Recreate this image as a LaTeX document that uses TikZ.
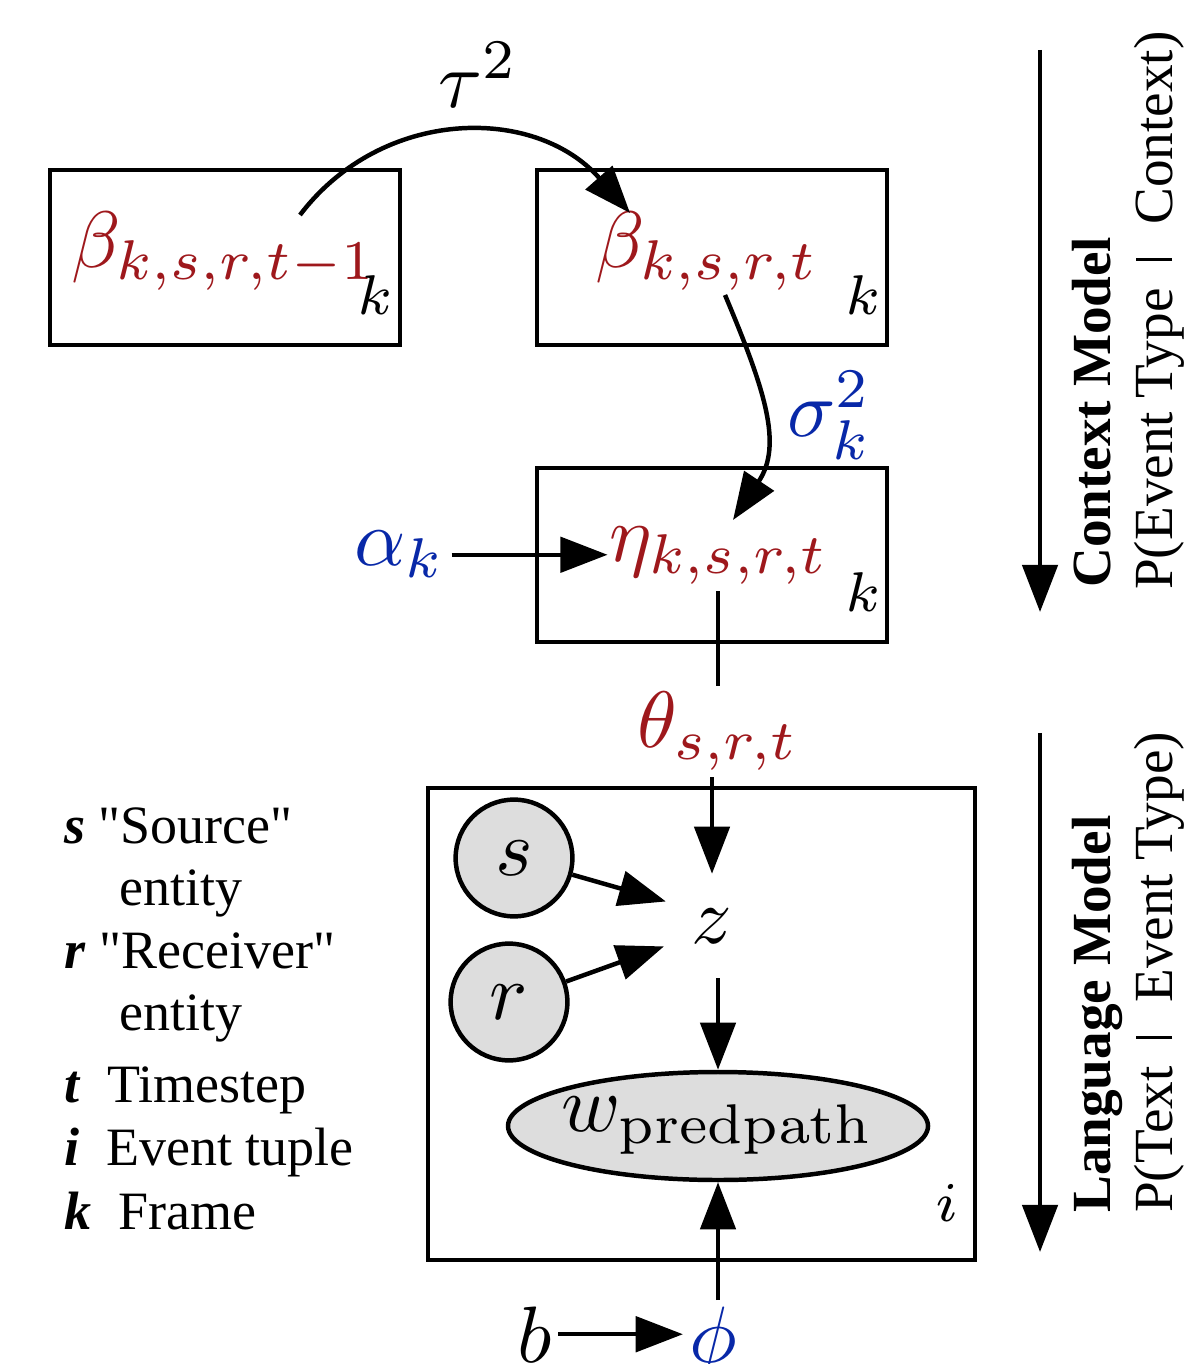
\documentclass[tikz,border=0pt]{standalone}
\usepackage[no-math]{fontspec}
\newfontfamily\timesface{Liberation Serif}
\usetikzlibrary{arrows.meta,shapes.geometric,calc}
\definecolor{latentred}{RGB}{158,24,28}
\definecolor{hyperblue}{RGB}{8,40,168}
\definecolor{obsgray}{RGB}{221,221,221}
% conditioning bar used in the side captions
\newcommand{\givenbar}{\hspace{0.5em}\rule{0.055em}{0.66em}\hspace{0.6em}}
\begin{document}
\begin{tikzpicture}[x=0.125pt, y=-0.125pt,
  line width=0.56pt,
  arr/.style={-{Triangle[length=5.9pt,width=4.4pt]}},
  plate/.style={draw, line width=0.52pt},
  latent/.style={text=latentred, inner sep=0.5pt},
  hyper/.style={text=hyperblue, inner sep=0.5pt},
  obs/.style={circle, draw, fill=obsgray, minimum size=14.6pt, inner sep=0pt},
  platelabel/.style={anchor=base west, inner sep=0pt, font=\fontsize{7.2}{8}\selectfont},
  legend/.style={font=\timesface\fontsize{6.75}{8}\selectfont, anchor=base west, inner sep=0pt},
  side/.style={font=\timesface\fontsize{6.9}{8}\selectfont, rotate=90, anchor=base west, inner sep=0pt}
]
\useasboundingbox (0,0) rectangle (1185,1364);

% plates
\draw[plate] (50,170) rectangle (400,345);
\draw[plate] (537,170) rectangle (887,345);
\draw[plate] (537,468) rectangle (887,642);
\draw[plate] (428,788) rectangle (975,1260);

% context model variables
\node[latent, anchor=base] (b1) at (224,268) {$\beta_{k,s,r,t-1}$};
\node[latent, anchor=base] (b2) at (707,268) {$\beta_{k,s,r,t}$};
\node[latent, anchor=base] (eta) at (719,562) {$\eta_{k,s,r,t}$};
\node[hyper, anchor=base] (alpha) at (400,566) {$\alpha_k$};
\node[anchor=base west, inner sep=0pt] (tau) at (436,108) {$\tau^2$};
\node[hyper, anchor=base west] (sigma) at (781,437) {$\sigma_k^2$};
\node[latent, anchor=base] (theta) at (718,748) {$\theta_{s,r,t}$};

\node[platelabel] (k1) at (355,315) {$k$};
\node[platelabel] (k2) at (843,315) {$k$};
\node[platelabel] (k3) at (843,612) {$k$};

% language model variables
\node[obs] (s) at (514,858) {$s$};
\node[obs] (r) at (509,1002) {$r$};
\node[circle, minimum size=12.5pt, inner sep=0pt] (z) at (712,926) {$z$};
\node[ellipse, draw, fill=obsgray, minimum width=52.5pt, minimum height=13.5pt, inner sep=0pt] (w) at (718,1126) {\makebox[0pt]{$w_{\mathrm{predpath}}$}};
\node[platelabel] (ilab) at (933,1221) {$i$};
\node[hyper, anchor=base] (phi) at (713,1362) {$\phi$};
\node[anchor=base, inner sep=0.5pt] (b) at (535,1362) {$b$};

% connectors
\draw[arr] ([shift={(76,-53)}]b1.base) .. controls +(82,-108) and +(-95,-108) .. ([shift={(-77,-55)}]b2.base);
\draw[arr] ([shift={(18,27)}]b2.base) .. controls +(40,95) and +(50,-75) .. ([shift={(14,-42)}]eta.base);
\draw[arr] (alpha.east) -- ([xshift=0.5pt]alpha.east -| eta.west);
\draw (theta.north |- eta.south) -- (theta.north);
\draw[arr] (theta.south -| z.north) -- (z.north);
\draw[arr] (s) -- (z.152);
\draw[arr] (r) -- (z.203);
\draw[arr] (z.south -| w.north) -- (w.north);
\draw[arr] (phi.north -| w.south) -- (w.south);
\draw[arr] (b.east) -- (b.east -| phi.west);

% direction arrows with captions
\coordinate (cm top) at (1040,50);
\coordinate (cm end) at (1040,612);
\coordinate (lm top) at (1040,733);
\coordinate (lm end) at (1040,1252);
\draw[arr] (cm top) -- (cm end);
\draw[arr] (lm top) -- (lm end);
\node[side] (cm title) at (1110,590) {\bfseries Context Model};
\node[side] (cm prob) at (1172,592) {P(Event Type\givenbar Context)};
\node[side] (lm title) at (1110,1215) {\bfseries Language Model};
\node[side] (lm prob) at (1172,1215) {P(Text\givenbar Event Type)};

% legend
\node[legend] (lg s) at (62,843) {\textbf{\textit{s}} "Source"};
\node[legend] (lg s2) at (117,905) {entity};
\node[legend] (lg r) at (62,968) {\textbf{\textit{r}} "Receiver"};
\node[legend] (lg r2) at (117,1030) {entity};
\node[legend] (lg t) at (62,1102) {\textbf{\textit{t}}\ \ Timestep};
\node[legend] (lg i) at (62,1165) {\textbf{\textit{i}}\ \ Event tuple};
\node[legend] (lg k) at (62,1229) {\textbf{\textit{k}}\ \ Frame};
\end{tikzpicture}
\end{document}
